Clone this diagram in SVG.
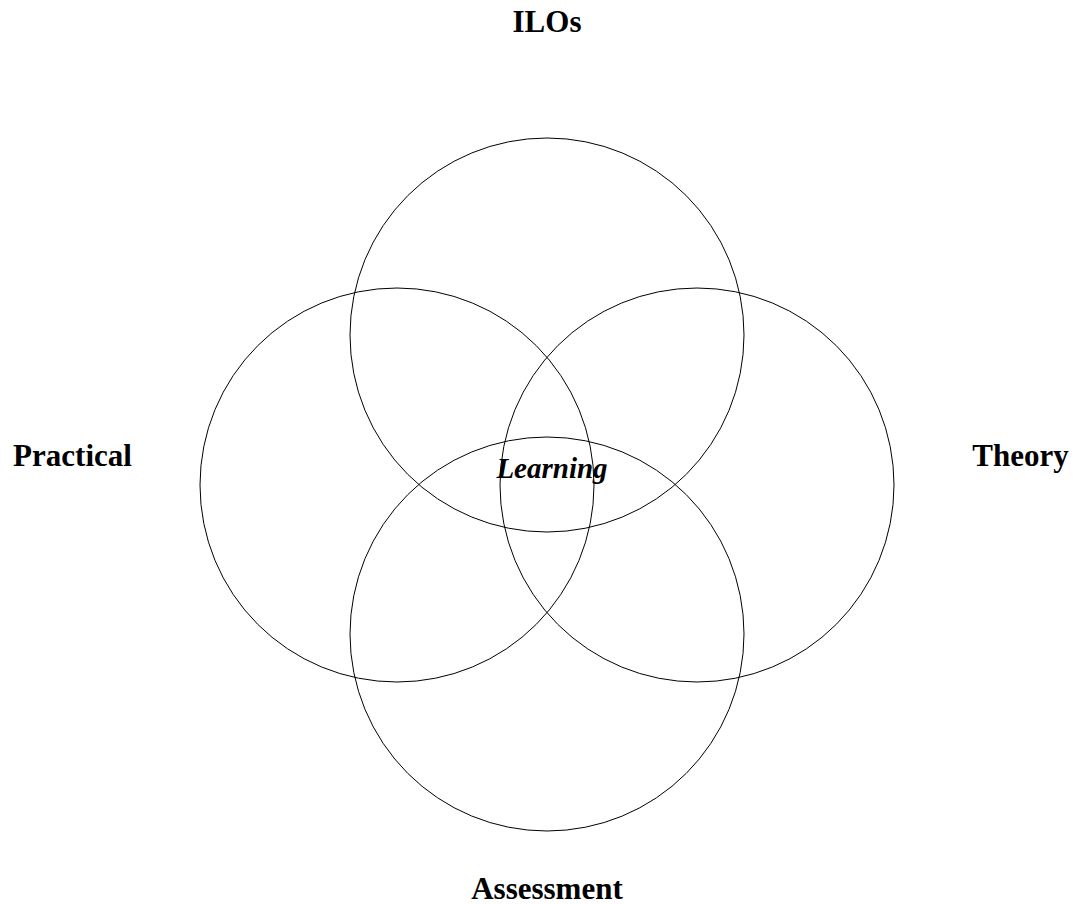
<svg xmlns="http://www.w3.org/2000/svg" width="1077" height="904" viewBox="0 0 1077 904">
<style>
.c{fill:none;stroke:#000;stroke-width:1}
.t{font-family:"Liberation Serif","Times New Roman",serif;font-weight:bold;font-size:31px;text-anchor:middle;fill:#000}
.l{font-family:"Liberation Serif","Times New Roman",serif;font-weight:bold;font-style:italic;font-size:29px;text-anchor:middle;fill:#000}
</style>
<rect width="1077" height="904" fill="#fff"/>
<g id="ilos"><circle class="c" cx="547" cy="335" r="197"/><text class="t" x="547" y="32">ILOs</text></g>
<g id="practical"><circle class="c" cx="397" cy="485" r="197"/><text class="t" x="72.5" y="466">Practical</text></g>
<g id="theory"><circle class="c" cx="697" cy="485" r="197"/><text class="t" x="1020.5" y="466">Theory</text></g>
<g id="assessment"><circle class="c" cx="547" cy="634" r="197"/><text class="t" x="547" y="899">Assessment</text></g>
<g id="learning"><text class="l" x="552" y="478">Learning</text></g>
<g id="connectors"></g>
</svg>
